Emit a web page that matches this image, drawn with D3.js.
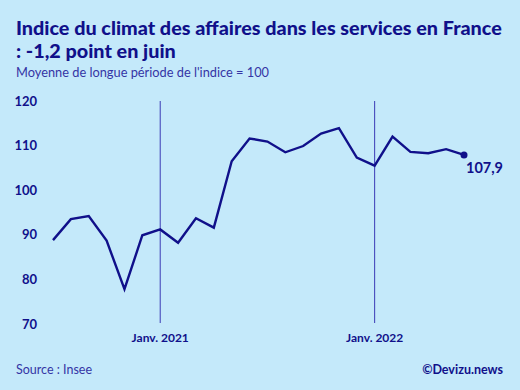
<!DOCTYPE html>
<html>
<head>
<meta charset="utf-8">
<script src="https://cdn.jsdelivr.net/npm/d3@7"></script>
<style>
  body { margin: 0; background: #c4e9fa; }
  svg { display: block; }
  text { font-family: "Lato", "Open Sans", sans-serif; }
</style>
</head>
<body>
<div id="chart"></div>
<script>
// months from juil. 2020 to juin 2022
var months = ["2020-07", "2020-08", "2020-09", "2020-10", "2020-11", "2020-12",
              "2021-01", "2021-02", "2021-03", "2021-04", "2021-05", "2021-06",
              "2021-07", "2021-08", "2021-09", "2021-10", "2021-11", "2021-12",
              "2022-01", "2022-02", "2022-03", "2022-04", "2022-05", "2022-06"];
var values = [88.8, 93.5, 94.2, 88.7, 77.8, 89.9,
              91.2, 88.2, 93.7, 91.6, 106.5, 111.6,
              110.9, 108.5, 109.9, 112.7, 113.9, 107.3,
              105.5, 112.0, 108.6, 108.3, 109.2, 107.9];
var yTicks = [70, 80, 90, 100, 110, 120];
var xTicks = ["2021-01", "2022-01"];
var xTickLabels = ["Janv. 2021", "Janv. 2022"];

var navy = "#10108a";
var width = 520, height = 390;
var tickFont = "'Liberation Sans', Arial, sans-serif";

var svg = d3.select("#chart").append("svg")
    .attr("width", width)
    .attr("height", height);

svg.append("rect").attr("width", width).attr("height", height).attr("fill", "#c4e9fa");

var x = d3.scaleLinear()
    .domain([0, months.length - 1])
    .range([53, 464]);

var y = d3.scaleLinear()
    .domain([70, 120])
    .range([324, 101]);

// title
var title = svg.append("text")
    .attr("x", 16).attr("y", 35)
    .attr("font-family", "Lato, sans-serif")
    .attr("font-weight", 900)
    .attr("font-size", 19)
    .attr("fill", navy)
    .text("Indice du climat des affaires dans les services en France");
// scale font so it spans like the original
var tw = title.node().getComputedTextLength();
var fs = 19 * 486 / tw;
title.attr("font-size", fs);

svg.append("text")
    .attr("x", 16).attr("y", 58)
    .attr("font-family", "Lato, sans-serif")
    .attr("font-weight", 900)
    .attr("font-size", fs)
    .attr("fill", navy)
    .text(": -1,2 point en juin");

svg.append("text")
    .attr("x", 16).attr("y", 77)
    .attr("font-size", 12.8)
    .attr("fill", "#3535a5")
    .text("Moyenne de longue période de l'indice = 100");

// y axis labels (no line)
var yAxis = d3.axisLeft(y).tickValues(yTicks).tickSize(0).tickPadding(0);
var gy = svg.append("g")
    .attr("transform", "translate(37,0)")
    .call(yAxis);
gy.select(".domain").remove();
gy.selectAll("text")
    .attr("font-family", tickFont)
    .attr("font-weight", "bold")
    .attr("font-size", 13)
    .attr("fill", navy);

// vertical year markers
var xIdx = xTicks.map(function (m) { return months.indexOf(m); });
svg.selectAll(".vline")
    .data(xIdx)
    .enter()
    .append("line")
    .attr("class", "vline")
    .attr("x1", function (d) { return x(d); })
    .attr("x2", function (d) { return x(d); })
    .attr("y1", y(120))
    .attr("y2", 323)
    .attr("stroke", "#3a3ab5")
    .attr("stroke-width", 1);

svg.selectAll(".xlabel")
    .data(xIdx)
    .enter()
    .append("text")
    .attr("class", "xlabel")
    .attr("x", function (d) { return x(d); })
    .attr("y", 342)
    .attr("text-anchor", "middle")
    .attr("font-family", tickFont)
    .attr("font-weight", "bold")
    .attr("font-size", 12)
    .attr("fill", navy)
    .text(function (d, i) { return xTickLabels[i]; });

// the line
var line = d3.line()
    .x(function (d, i) { return x(i); })
    .y(function (d) { return y(d); });

svg.append("path")
    .datum(values)
    .attr("d", line)
    .attr("fill", "none")
    .attr("stroke", navy)
    .attr("stroke-width", 2.4)
    .attr("stroke-linejoin", "miter");

var last = values.length - 1;
svg.append("circle")
    .attr("cx", x(last))
    .attr("cy", y(values[last]))
    .attr("r", 3.5)
    .attr("fill", navy);

svg.append("text")
    .attr("x", x(last) + 2)
    .attr("y", y(values[last]) + 18)
    .attr("font-family", tickFont)
    .attr("font-weight", "bold")
    .attr("font-size", 14.5)
    .attr("fill", navy)
    .text(String(values[last]).replace(".", ","));

// footer
svg.append("text")
    .attr("x", 16).attr("y", 374)
    .attr("font-size", 12.5)
    .attr("fill", "#3535a5")
    .text("Source : Insee");

svg.append("text")
    .attr("x", 503).attr("y", 374)
    .attr("text-anchor", "end")
    .attr("font-family", tickFont)
    .attr("font-weight", "bold")
    .attr("font-size", 12.5)
    .attr("fill", navy)
    .text("©Devizu.news");
</script>
</body>
</html>
